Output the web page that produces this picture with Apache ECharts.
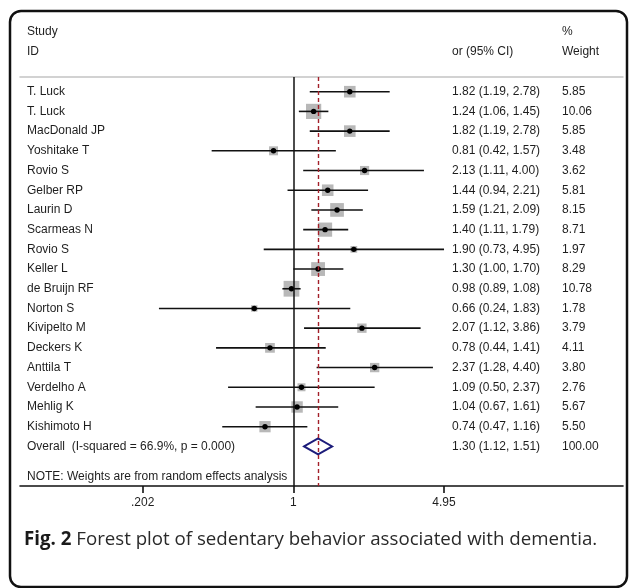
<!DOCTYPE html>
<html>
<head>
<meta charset="utf-8">
<script src="https://cdn.jsdelivr.net/npm/echarts@6/dist/echarts.min.js"></script>
<style>
html,body{margin:0;padding:0;background:#fff;}
#chart{width:629px;height:588px;}
</style>
</head>
<body>
<div id="chart"></div>
<script>
const studies = ['T. Luck','T. Luck','MacDonald JP','Yoshitake T','Rovio S','Gelber RP','Laurin D','Scarmeas N','Rovio S','Keller L','de Bruijn RF','Norton S','Kivipelto M','Deckers K','Anttila T','Verdelho A','Mehlig K','Kishimoto H'];
const orValues = [1.82,1.24,1.82,0.81,2.13,1.44,1.59,1.40,1.90,1.30,0.98,0.66,2.07,0.78,2.37,1.09,1.04,0.74];
const ciLow   = [1.19,1.06,1.19,0.42,1.11,0.94,1.21,1.11,0.73,1.00,0.89,0.24,1.12,0.44,1.28,0.50,0.67,0.47];
const ciHigh  = [2.78,1.45,2.78,1.57,4.00,2.21,2.09,1.79,4.95,1.70,1.08,1.83,3.86,1.41,4.40,2.37,1.61,1.16];
const weights = [5.85,10.06,5.85,3.48,3.62,5.81,8.15,8.71,1.97,8.29,10.78,1.78,3.79,4.11,3.80,2.76,5.67,5.50];
const overallLabel = 'Overall  (I-squared = 66.9%, p = 0.000)';
const overallOr = 1.30, overallLow = 1.12, overallHigh = 1.51, overallWeight = 100.00;
const tickValues = [0.202, 1, 4.95];
const tickLabels = ['.202', '1', '4.95'];
const nullValue = 1;

const ln = Math.log;
const FONT = '"Liberation Sans", Arial, sans-serif';
const TXT = '#1e1e1e';
const fmt = v => v.toFixed(2);

const rowData = studies.map((s, i) => [i, ln(orValues[i]), ln(ciLow[i]), ln(ciHigh[i]), weights[i]]);
const n = studies.length;
const textRows = studies.map((s, i) => [i, s, fmt(orValues[i]) + ' (' + fmt(ciLow[i]) + ', ' + fmt(ciHigh[i]) + ')', fmt(weights[i])]);
textRows.push([n, overallLabel, fmt(overallOr) + ' (' + fmt(overallLow) + ', ' + fmt(overallHigh) + ')', fmt(overallWeight)]);

const xMin = ln(0.0549), xMax = ln(33.1);
const lnTicks = tickValues.map(ln);

const chart = echarts.init(document.getElementById('chart'), null, {renderer: 'canvas'});
const option = {
  backgroundColor: '#ffffff',
  animation: false,
  grid: {left: 20, right: 6, top: 77, bottom: 102, containLabel: false},
  xAxis: [{
    type: 'value', min: xMin, max: xMax, position: 'bottom',
    splitLine: {show: false},
    axisLine: {show: true, onZero: false, lineStyle: {color: '#111', width: 1.6}},
    axisTick: {show: true, length: 7, lineStyle: {color: '#111', width: 1.6}, customValues: lnTicks},
    axisLabel: {show: true, margin: 11, fontFamily: FONT, fontSize: 12, color: TXT, customValues: lnTicks,
      formatter: v => { let k = 0, d = 1e9; lnTicks.forEach((t, j) => { if (Math.abs(t - v) < d) { d = Math.abs(t - v); k = j; } }); return tickLabels[k]; }}
  }, {
    type: 'value', min: xMin, max: xMax, position: 'top',
    splitLine: {show: false},
    axisLine: {show: true, onZero: false, lineStyle: {color: '#c4c4c4', width: 1.5}},
    axisTick: {show: false}, axisLabel: {show: false}
  }],
  yAxis: {
    type: 'value', inverse: true, min: -0.746, max: 20.01, show: false
  },
  series: [
    {
      type: 'custom',
      name: 'studies',
      data: rowData,
      encode: {x: [1, 2, 3], y: 0},
      z: 3,
      renderItem: function (params, api) {
        const i = api.value(0);
        const c = api.coord([api.value(1), i]);
        const l = api.coord([api.value(2), i]);
        const h = api.coord([api.value(3), i]);
        const s = 4.8 * Math.sqrt(api.value(4));
        return {
          type: 'group',
          children: [
            {type: 'rect', shape: {x: c[0] - s / 2, y: c[1] - s / 2, width: s, height: s}, style: {fill: '#b8b8b8'}},
            {type: 'line', shape: {x1: l[0], y1: l[1], x2: h[0], y2: h[1]}, style: {stroke: '#111', lineWidth: 1.6}},
            {type: 'circle', shape: {cx: c[0], cy: c[1], r: 2.7}, style: {fill: '#000'}}
          ]
        };
      }
    },
    {
      type: 'custom',
      name: 'overall',
      data: [[n, ln(overallOr), ln(overallLow), ln(overallHigh)]],
      encode: {x: [1, 2, 3], y: 0},
      z: 4,
      renderItem: function (params, api) {
        const i = api.value(0);
        const c = api.coord([api.value(1), i]);
        const l = api.coord([api.value(2), i]);
        const h = api.coord([api.value(3), i]);
        const hh = 8;
        return {
          type: 'polygon',
          shape: {points: [[l[0], c[1]], [c[0], c[1] - hh], [h[0], c[1]], [c[0], c[1] + hh]]},
          style: {fill: 'none', stroke: '#1c1c7a', lineWidth: 1.9}
        };
      }
    },
    {
      type: 'custom',
      name: 'texts',
      data: textRows,
      encode: {y: 0},
      z: 5,
      renderItem: function (params, api) {
        const i = api.value(0);
        const y = api.coord([0, i])[1];
        const row = textRows[params.dataIndex];
        const mk = (x, t) => ({type: 'text', x: x, y: y, style: {text: t, fill: TXT, font: '12px ' + FONT, textAlign: 'left', textVerticalAlign: 'middle'}});
        return {type: 'group', children: [mk(27, row[1]), mk(452, row[2]), mk(562, row[3])]};
      }
    },
    {
      type: 'line',
      data: [],
      z: 6,
      markLine: {
        silent: true, symbol: 'none', animation: false,
        label: {show: false},
        data: [
          {xAxis: ln(nullValue), lineStyle: {color: '#111', width: 1.5, type: 'solid'}},
          {xAxis: ln(overallOr), lineStyle: {color: '#a3202a', width: 1.4, type: [4, 3]}}
        ]
      }
    }
  ],
  graphic: [
    {type: 'rect', shape: {x: 10, y: 11, width: 617, height: 576, r: 11}, style: {fill: 'none', stroke: '#111', lineWidth: 2.5}, z: 10},
    {type: 'text', x: 27, y: 32, style: {text: 'Study', fill: TXT, font: '12px ' + FONT, textVerticalAlign: 'middle'}},
    {type: 'text', x: 27, y: 52, style: {text: 'ID', fill: TXT, font: '12px ' + FONT, textVerticalAlign: 'middle'}},
    {type: 'text', x: 452, y: 52, style: {text: 'or (95% CI)', fill: TXT, font: '12px ' + FONT, textVerticalAlign: 'middle'}},
    {type: 'text', x: 562, y: 32, style: {text: '%', fill: TXT, font: '12px ' + FONT, textVerticalAlign: 'middle'}},
    {type: 'text', x: 562, y: 52, style: {text: 'Weight', fill: TXT, font: '12px ' + FONT, textVerticalAlign: 'middle'}},
    {type: 'text', x: 27, y: 477, style: {text: 'NOTE: Weights are from random effects analysis', fill: TXT, font: '12px ' + FONT, textVerticalAlign: 'middle'}},
    {type: 'text', x: 24, y: 540, style: {
      text: '{b|Fig. 2} Forest plot of sedentary behavior associated with dementia.',
      fill: '#2a2a2a', font: '18.7px "Open Sans", sans-serif', textVerticalAlign: 'middle',
      rich: {b: {fontWeight: 'bold', fontFamily: '"Open Sans", sans-serif', fontSize: 18.7, fill: '#1a1a1a'}}
    }}
  ]
};
chart.setOption(option);
</script>
</body>
</html>
